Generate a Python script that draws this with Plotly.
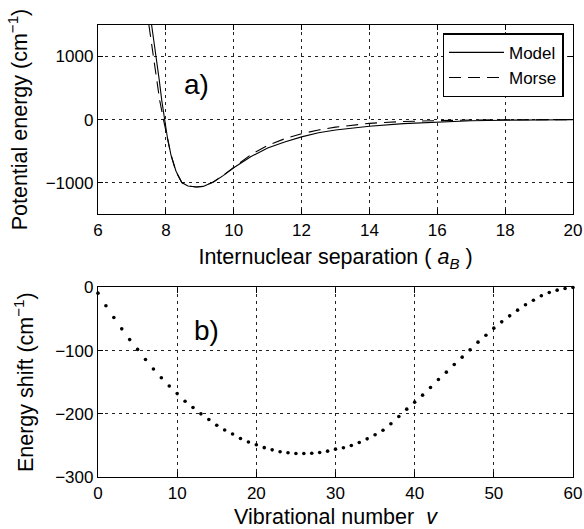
import plotly.graph_objects as go

# Panel a) potential curves (read from picture)
r_model = [7.58, 7.65, 7.72, 7.80, 7.88, 7.96, 8.05, 8.15, 8.30, 8.47, 8.65, 8.90, 9.10, 9.40, 9.70,
           10.0, 10.5, 11.0, 11.5, 12.0, 12.5, 13.0, 13.5, 14.0, 15.0, 16.0, 17.0, 18.0, 19.0, 20.0]
e_model = [1500, 1250, 1000, 650, 300, 0, -300, -560, -820, -1000, -1055, -1070, -1060, -990, -885,
           -765, -590, -450, -355, -275, -210, -165, -130, -105, -65, -38, -20, -10, -5, -2]

r_morse = [7.50, 7.57, 7.64, 7.72, 7.82, 7.93, 8.05, 8.15, 8.30, 8.47, 8.65, 8.90, 9.10, 9.40, 9.70,
           10.0, 10.5, 11.0, 11.5, 12.0, 12.5, 13.0, 13.5, 14.0, 15.0, 16.0, 17.0, 18.0, 20.0]
e_morse = [1500, 1250, 1000, 650, 300, 0, -320, -560, -830, -1000, -1055, -1070, -1060, -990, -880,
           -760, -560, -410, -305, -225, -165, -120, -85, -60, -30, -15, -7, -3, -1]

# Panel b) energy shift vs vibrational number
v_num = list(range(0, 61))
shift = [-9, -29, -47.5, -65.5, -82.5, -98, -114, -129, -143, -156, -168, -180, -190, -200, -209,
         -218, -225.5, -232, -239, -244.5, -249, -253.5, -257, -260, -261.5, -262.8, -262.8, -262.3,
         -261.2, -259.1, -255.9, -253.8, -250.1, -245.4, -239.6, -233.2, -225.9, -215.8, -204.2,
         -192.6, -181.5, -170.4, -158.3, -145.6, -134.0, -121.9, -110.3, -98.7, -86.5, -75.5, -64.4,
         -54.4, -44.9, -35.9, -27.4, -20.1, -13.2, -8.0, -4.2, -1.6, 0]

FONT = "Liberation Sans, Arial, Helvetica, sans-serif"

fig = go.Figure()
fig.add_trace(go.Scatter(x=r_model, y=e_model, mode="lines", name="Model",
                         line=dict(color="black", width=1.1), xaxis="x", yaxis="y"))
fig.add_trace(go.Scatter(x=r_morse, y=e_morse, mode="lines", name="Morse",
                         line=dict(color="black", width=1.1, dash="12px,7px"), xaxis="x", yaxis="y"))
fig.add_trace(go.Scatter(x=v_num, y=shift, mode="markers", showlegend=False,
                         marker=dict(color="black", size=3.6), xaxis="x2", yaxis="y2", cliponaxis=False))

axis_common = dict(showline=True, linecolor="black", linewidth=1.3, mirror="ticks",
                   ticks="inside", ticklen=5, tickcolor="black", tickwidth=1,
                   showgrid=True, gridcolor="#222", gridwidth=1, griddash="3px,4px",
                   zeroline=False, automargin=False,
                   tickfont=dict(size=17, color="black", family=FONT),
                   title_font=dict(size=21.5, color="black", family=FONT))

fig.update_layout(
    width=584, height=529, margin=dict(l=97.7, r=11.3, t=25, b=52.3, autoexpand=False),
    paper_bgcolor="white", plot_bgcolor="white",
    font=dict(family=FONT, color="black"),
    xaxis=dict(domain=[0, 1], range=[6, 20], tickvals=[6, 8, 10, 12, 14, 16, 18, 20],
               title=dict(text="Internuclear separation ( <i>a</i><sub><i>B</i></sub> )", standoff=10),
               anchor="y", **axis_common),
    yaxis=dict(domain=[0.5816, 1], range=[-1500, 1500], tickvals=[-1000, 0, 1000],
               ticktext=["\u22121000", "0", "1000"],
               title=dict(text="Potential energy (cm<sup>\u22121</sup>)", standoff=12),
               anchor="x", **axis_common),
    xaxis2=dict(domain=[0, 1], range=[0, 60], tickvals=[0, 10, 20, 30, 40, 50, 60],
                title=dict(text="Vibrational number  <i>v</i>", standoff=8),
                anchor="y2", **axis_common),
    yaxis2=dict(domain=[0, 0.4193], range=[-300, 0], tickvals=[-300, -200, -100, 0],
                ticktext=["\u2212300", "\u2212200", "\u2212100", "0"],
                title=dict(text="Energy shift (cm<sup>\u22121</sup>)", standoff=15),
                anchor="x2", **axis_common),
    legend=dict(x=0.980, y=0.9816, xanchor="right", yanchor="top",
                bordercolor="black", borderwidth=1.5, bgcolor="white",
                font=dict(size=17, color="black", family=FONT),
                tracegroupgap=0, itemwidth=55),
    annotations=[
        dict(text="a)", x=8.9, y=550, xref="x", yref="y", showarrow=False,
             font=dict(size=28, color="black", family=FONT)),
        dict(text="b)", x=13.7, y=-68, xref="x2", yref="y2", showarrow=False,
             font=dict(size=28, color="black", family=FONT)),
    ],
)

fig.write_html("out.html", config={"displayModeBar": False},
               post_script="document.body.style.margin='0';document.body.style.overflow='hidden';")
